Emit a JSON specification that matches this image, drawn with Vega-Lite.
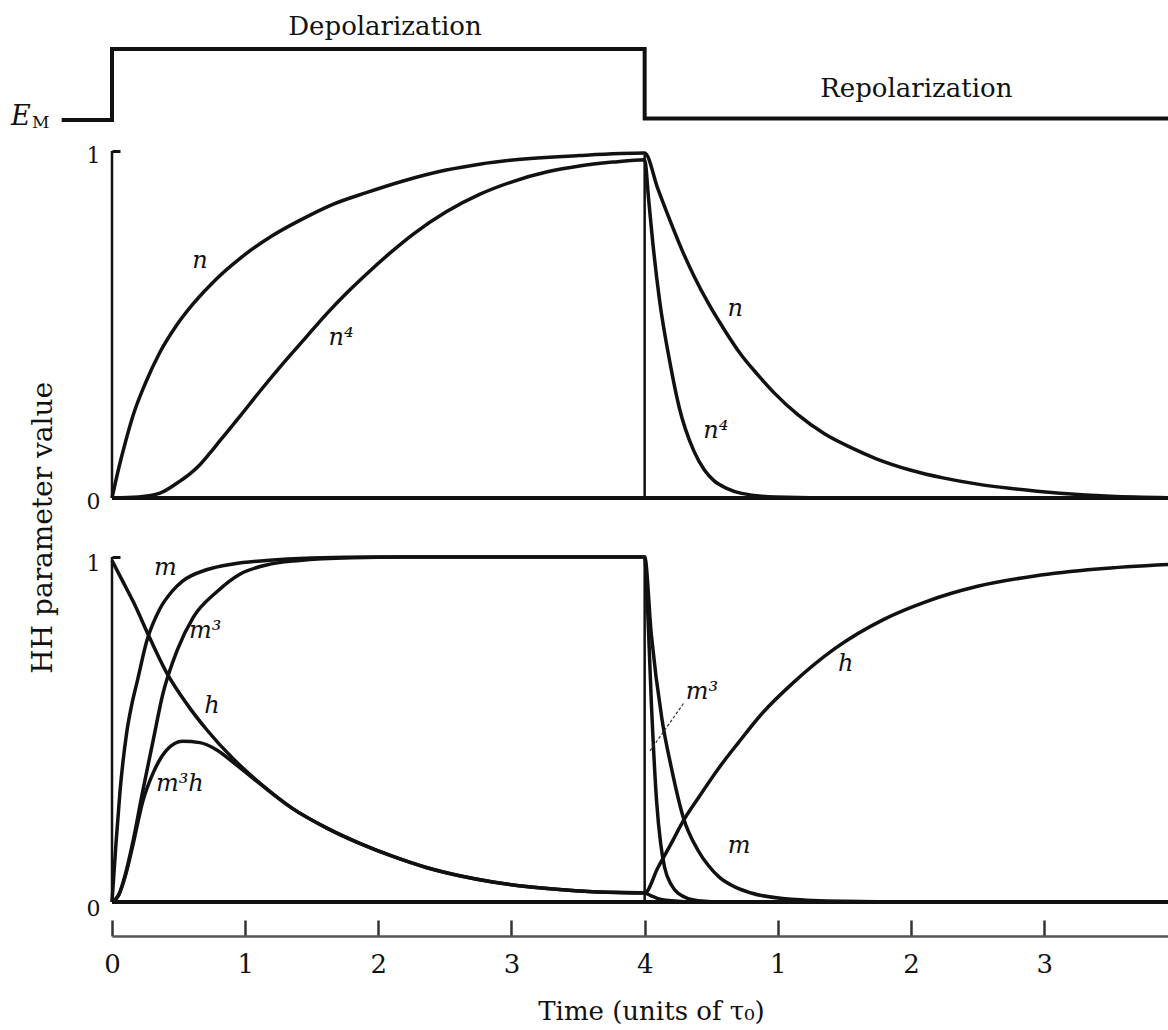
{
  "$schema": "https://vega.github.io/schema/vega-lite/v6.json",
  "padding": {"left": 11, "top": 13, "right": 0, "bottom": 0},
  "background": "white",
  "bounds": "flush",
  "spacing": 31,
  "config": {
    "view": {"stroke": null},
    "font": "DejaVu Serif",
    "axis": {"grid": false, "titleFont": "DejaVu Serif", "labelFont": "DejaVu Serif", "titleFontWeight": "normal", "titleColor": "#111", "labelColor": "#111"}
  },
  "datasets": {
    "em": [
      {"i": 0, "t": -0.378, "level": 0},
      {"i": 1, "t": 0, "level": 0},
      {"i": 2, "t": 0, "level": 1},
      {"i": 3, "t": 4, "level": 1},
      {"i": 4, "t": 4, "level": 0.02},
      {"i": 5, "t": 7.93, "level": 0.02}
    ],
    "toplab": [
      {"label": "Depolarization", "t": 2.05, "level": 1.31},
      {"label": "Repolarization", "t": 6.04, "level": 0.437}
    ],
    "emE": [{"label": "E", "t": -0.758, "level": -0.07}],
    "emM": [{"label": "M", "t": -0.6, "level": -0.11}],
    "ytitle": [{"label": "HH parameter value", "t": -0.51, "v": -0.086}],
    "p2": [
      {"c": "n", "t": 0, "v": 0}, {"c": "n", "t": 0.05, "v": 0.085}, {"c": "n", "t": 0.1, "v": 0.16},
      {"c": "n", "t": 0.16, "v": 0.24}, {"c": "n", "t": 0.25, "v": 0.33}, {"c": "n", "t": 0.36, "v": 0.42},
      {"c": "n", "t": 0.48, "v": 0.495}, {"c": "n", "t": 0.61, "v": 0.56}, {"c": "n", "t": 0.78, "v": 0.63},
      {"c": "n", "t": 0.96, "v": 0.69}, {"c": "n", "t": 1.2, "v": 0.755}, {"c": "n", "t": 1.41, "v": 0.8},
      {"c": "n", "t": 1.65, "v": 0.845}, {"c": "n", "t": 1.91, "v": 0.88}, {"c": "n", "t": 2.2, "v": 0.915},
      {"c": "n", "t": 2.51, "v": 0.945}, {"c": "n", "t": 2.76, "v": 0.962}, {"c": "n", "t": 3.01, "v": 0.974},
      {"c": "n", "t": 3.51, "v": 0.987}, {"c": "n", "t": 4.0, "v": 0.994}, {"c": "n", "t": 4.1, "v": 0.89},
      {"c": "n", "t": 4.19, "v": 0.8}, {"c": "n", "t": 4.28, "v": 0.715}, {"c": "n", "t": 4.37, "v": 0.64},
      {"c": "n", "t": 4.48, "v": 0.56}, {"c": "n", "t": 4.59, "v": 0.49}, {"c": "n", "t": 4.72, "v": 0.415},
      {"c": "n", "t": 4.85, "v": 0.355}, {"c": "n", "t": 4.98, "v": 0.3}, {"c": "n", "t": 5.15, "v": 0.24},
      {"c": "n", "t": 5.35, "v": 0.185}, {"c": "n", "t": 5.55, "v": 0.145}, {"c": "n", "t": 5.74, "v": 0.113},
      {"c": "n", "t": 6.0, "v": 0.08}, {"c": "n", "t": 6.24, "v": 0.058}, {"c": "n", "t": 6.5, "v": 0.04},
      {"c": "n", "t": 6.74, "v": 0.028}, {"c": "n", "t": 7.12, "v": 0.014}, {"c": "n", "t": 7.5, "v": 0.005},
      {"c": "n", "t": 7.93, "v": 0.001},
      {"c": "n4", "t": 0, "v": 0}, {"c": "n4", "t": 0.2, "v": 0.003}, {"c": "n4", "t": 0.36, "v": 0.014},
      {"c": "n4", "t": 0.5, "v": 0.046}, {"c": "n4", "t": 0.58, "v": 0.068}, {"c": "n4", "t": 0.66, "v": 0.096},
      {"c": "n4", "t": 0.73, "v": 0.127}, {"c": "n4", "t": 0.8, "v": 0.16},
      {"c": "n4", "t": 0.96, "v": 0.235}, {"c": "n4", "t": 1.12, "v": 0.312}, {"c": "n4", "t": 1.29, "v": 0.39},
      {"c": "n4", "t": 1.45, "v": 0.46}, {"c": "n4", "t": 1.61, "v": 0.53}, {"c": "n4", "t": 1.76, "v": 0.59},
      {"c": "n4", "t": 1.91, "v": 0.645}, {"c": "n4", "t": 2.1, "v": 0.71}, {"c": "n4", "t": 2.26, "v": 0.76},
      {"c": "n4", "t": 2.51, "v": 0.825}, {"c": "n4", "t": 2.76, "v": 0.875}, {"c": "n4", "t": 3.01, "v": 0.912},
      {"c": "n4", "t": 3.27, "v": 0.94}, {"c": "n4", "t": 3.51, "v": 0.957}, {"c": "n4", "t": 3.76, "v": 0.968},
      {"c": "n4", "t": 4.0, "v": 0.975}, {"c": "n4", "t": 4.03, "v": 0.86}, {"c": "n4", "t": 4.06, "v": 0.74},
      {"c": "n4", "t": 4.11, "v": 0.575}, {"c": "n4", "t": 4.19, "v": 0.39}, {"c": "n4", "t": 4.26, "v": 0.26},
      {"c": "n4", "t": 4.37, "v": 0.135}, {"c": "n4", "t": 4.45, "v": 0.08}, {"c": "n4", "t": 4.52, "v": 0.05},
      {"c": "n4", "t": 4.62, "v": 0.027}, {"c": "n4", "t": 4.72, "v": 0.014}, {"c": "n4", "t": 4.98, "v": 0.003},
      {"c": "n4", "t": 5.5, "v": 0}, {"c": "n4", "t": 7.93, "v": 0}
    ],
    "l2": [
      {"label": "n", "t": 0.66, "v": 0.683},
      {"label": "n⁴", "t": 1.72, "v": 0.46},
      {"label": "n", "t": 4.68, "v": 0.545},
      {"label": "n⁴", "t": 4.535, "v": 0.193}
    ],
    "p3": [
      {"c": "m", "t": 0, "v": 0}, {"c": "m", "t": 0.03, "v": 0.17}, {"c": "m", "t": 0.06, "v": 0.32},
      {"c": "m", "t": 0.11, "v": 0.49}, {"c": "m", "t": 0.15, "v": 0.575}, {"c": "m", "t": 0.19, "v": 0.64},
      {"c": "m", "t": 0.26, "v": 0.755}, {"c": "m", "t": 0.36, "v": 0.85}, {"c": "m", "t": 0.45, "v": 0.9},
      {"c": "m", "t": 0.53, "v": 0.93}, {"c": "m", "t": 0.71, "v": 0.963}, {"c": "m", "t": 0.91, "v": 0.98},
      {"c": "m", "t": 1.16, "v": 0.99}, {"c": "m", "t": 1.5, "v": 0.997}, {"c": "m", "t": 2.0, "v": 1.0},
      {"c": "m", "t": 4.0, "v": 1.0}, {"c": "m", "t": 4.05, "v": 0.775}, {"c": "m", "t": 4.13, "v": 0.53},
      {"c": "m", "t": 4.2, "v": 0.39}, {"c": "m", "t": 4.29, "v": 0.245}, {"c": "m", "t": 4.4, "v": 0.15},
      {"c": "m", "t": 4.48, "v": 0.105}, {"c": "m", "t": 4.56, "v": 0.072}, {"c": "m", "t": 4.68, "v": 0.043},
      {"c": "m", "t": 4.8, "v": 0.026}, {"c": "m", "t": 5.1, "v": 0.008}, {"c": "m", "t": 5.5, "v": 0.002},
      {"c": "m", "t": 6.0, "v": 0}, {"c": "m", "t": 7.93, "v": 0},
      {"c": "m3", "t": 0, "v": 0}, {"c": "m3", "t": 0.05, "v": 0.02}, {"c": "m3", "t": 0.1, "v": 0.08},
      {"c": "m3", "t": 0.16, "v": 0.18}, {"c": "m3", "t": 0.23, "v": 0.32}, {"c": "m3", "t": 0.31, "v": 0.47},
      {"c": "m3", "t": 0.38, "v": 0.6}, {"c": "m3", "t": 0.49, "v": 0.73}, {"c": "m3", "t": 0.61, "v": 0.825},
      {"c": "m3", "t": 0.79, "v": 0.9}, {"c": "m3", "t": 0.96, "v": 0.95}, {"c": "m3", "t": 1.16, "v": 0.977},
      {"c": "m3", "t": 1.41, "v": 0.99}, {"c": "m3", "t": 1.8, "v": 0.998}, {"c": "m3", "t": 2.2, "v": 1.0},
      {"c": "m3", "t": 4.0, "v": 1.0}, {"c": "m3", "t": 4.02, "v": 0.87}, {"c": "m3", "t": 4.05, "v": 0.58},
      {"c": "m3", "t": 4.09, "v": 0.29}, {"c": "m3", "t": 4.12, "v": 0.17}, {"c": "m3", "t": 4.15, "v": 0.1},
      {"c": "m3", "t": 4.2, "v": 0.05}, {"c": "m3", "t": 4.25, "v": 0.026}, {"c": "m3", "t": 4.4, "v": 0.004},
      {"c": "m3", "t": 4.6, "v": 0}, {"c": "m3", "t": 7.93, "v": 0},
      {"c": "h", "t": 0, "v": 0.99}, {"c": "h", "t": 0.08, "v": 0.93}, {"c": "h", "t": 0.16, "v": 0.87},
      {"c": "h", "t": 0.29, "v": 0.76}, {"c": "h", "t": 0.41, "v": 0.665}, {"c": "h", "t": 0.56, "v": 0.575},
      {"c": "h", "t": 0.71, "v": 0.5}, {"c": "h", "t": 0.91, "v": 0.415}, {"c": "h", "t": 1.11, "v": 0.345},
      {"c": "h", "t": 1.36, "v": 0.27}, {"c": "h", "t": 1.61, "v": 0.215}, {"c": "h", "t": 1.86, "v": 0.17},
      {"c": "h", "t": 2.11, "v": 0.132}, {"c": "h", "t": 2.36, "v": 0.1}, {"c": "h", "t": 2.61, "v": 0.076},
      {"c": "h", "t": 2.86, "v": 0.058}, {"c": "h", "t": 3.11, "v": 0.045}, {"c": "h", "t": 3.36, "v": 0.036},
      {"c": "h", "t": 3.61, "v": 0.03}, {"c": "h", "t": 4.0, "v": 0.026}, {"c": "h", "t": 4.1, "v": 0.1},
      {"c": "h", "t": 4.2, "v": 0.17}, {"c": "h", "t": 4.29, "v": 0.235}, {"c": "h", "t": 4.4, "v": 0.3},
      {"c": "h", "t": 4.56, "v": 0.39}, {"c": "h", "t": 4.7, "v": 0.46}, {"c": "h", "t": 4.89, "v": 0.55},
      {"c": "h", "t": 5.1, "v": 0.63}, {"c": "h", "t": 5.43, "v": 0.735}, {"c": "h", "t": 5.8, "v": 0.82},
      {"c": "h", "t": 6.11, "v": 0.87}, {"c": "h", "t": 6.5, "v": 0.915}, {"c": "h", "t": 6.93, "v": 0.945},
      {"c": "h", "t": 7.4, "v": 0.965}, {"c": "h", "t": 7.93, "v": 0.978},
      {"c": "m3h", "t": 0, "v": 0}, {"c": "m3h", "t": 0.05, "v": 0.02}, {"c": "m3h", "t": 0.1, "v": 0.075},
      {"c": "m3h", "t": 0.16, "v": 0.17}, {"c": "m3h", "t": 0.23, "v": 0.29}, {"c": "m3h", "t": 0.31, "v": 0.375},
      {"c": "m3h", "t": 0.41, "v": 0.44}, {"c": "m3h", "t": 0.53, "v": 0.466}, {"c": "m3h", "t": 0.66, "v": 0.462},
      {"c": "m3h", "t": 0.79, "v": 0.44}, {"c": "m3h", "t": 0.91, "v": 0.405}, {"c": "m3h", "t": 1.11, "v": 0.343},
      {"c": "m3h", "t": 1.36, "v": 0.27}, {"c": "m3h", "t": 1.61, "v": 0.215}, {"c": "m3h", "t": 1.86, "v": 0.17},
      {"c": "m3h", "t": 2.11, "v": 0.132}, {"c": "m3h", "t": 2.36, "v": 0.1}, {"c": "m3h", "t": 2.61, "v": 0.076},
      {"c": "m3h", "t": 2.86, "v": 0.058}, {"c": "m3h", "t": 3.11, "v": 0.045}, {"c": "m3h", "t": 3.36, "v": 0.036},
      {"c": "m3h", "t": 3.61, "v": 0.03}, {"c": "m3h", "t": 4.0, "v": 0.026}, {"c": "m3h", "t": 4.05, "v": 0.018},
      {"c": "m3h", "t": 4.1, "v": 0.01}, {"c": "m3h", "t": 4.2, "v": 0.004}, {"c": "m3h", "t": 4.4, "v": 0},
      {"c": "m3h", "t": 7.93, "v": 0}
    ],
    "l3": [
      {"label": "m", "t": 0.4, "v": 0.968},
      {"label": "m³", "t": 0.7, "v": 0.785},
      {"label": "h", "t": 0.75, "v": 0.568},
      {"label": "m³h", "t": 0.51, "v": 0.342},
      {"label": "m³", "t": 4.43, "v": 0.61},
      {"label": "m", "t": 4.71, "v": 0.162},
      {"label": "h", "t": 5.51, "v": 0.69}
    ],
    "lead": [
      {"t": 4.04, "v": 0.438},
      {"t": 4.3, "v": 0.58}
    ]
  },
  "vconcat": [
    {
      "width": 1056,
      "height": 71,
      "layer": [
        {
          "data": {"name": "em"},
          "mark": {"type": "line", "strokeWidth": 4, "color": "#111"},
          "encoding": {
            "x": {"field": "t", "type": "quantitative", "scale": {"domain": [0, 7.93], "nice": false, "zero": false}, "axis": null},
            "y": {"field": "level", "type": "quantitative", "scale": {"domain": [0, 1], "nice": false, "zero": false}, "axis": null},
            "order": {"field": "i"}
          }
        },
        {
          "data": {"name": "toplab"},
          "mark": {"type": "text", "font": "DejaVu Serif", "fontSize": 26, "color": "#111", "align": "center", "baseline": "middle"},
          "encoding": {
            "x": {"field": "t", "type": "quantitative", "scale": {"domain": [0, 7.93], "nice": false, "zero": false}, "axis": null},
            "y": {"field": "level", "type": "quantitative", "scale": {"domain": [0, 1], "nice": false, "zero": false}, "axis": null},
            "text": {"field": "label"}
          }
        },
        {
          "data": {"name": "emE"},
          "mark": {"type": "text", "font": "DejaVu Serif", "fontStyle": "italic", "fontSize": 27, "color": "#111", "align": "left", "baseline": "alphabetic"},
          "encoding": {
            "x": {"field": "t", "type": "quantitative", "scale": {"domain": [0, 7.93], "nice": false, "zero": false}, "axis": null},
            "y": {"field": "level", "type": "quantitative", "scale": {"domain": [0, 1], "nice": false, "zero": false}, "axis": null},
            "text": {"field": "label"}
          }
        },
        {
          "data": {"name": "emM"},
          "mark": {"type": "text", "font": "DejaVu Serif", "fontSize": 17, "color": "#111", "align": "left", "baseline": "alphabetic"},
          "encoding": {
            "x": {"field": "t", "type": "quantitative", "scale": {"domain": [0, 7.93], "nice": false, "zero": false}, "axis": null},
            "y": {"field": "level", "type": "quantitative", "scale": {"domain": [0, 1], "nice": false, "zero": false}, "axis": null},
            "text": {"field": "label"}
          }
        }
      ]
    },
    {
      "width": 1056,
      "height": 375,
      "layer": [
        {
          "data": {"name": "p2"},
          "mark": {"type": "line", "strokeWidth": 3.5, "color": "#111", "interpolate": "monotone"},
          "encoding": {
            "x": {"field": "t", "type": "quantitative", "scale": {"domain": [0, 7.93], "nice": false, "zero": false}, "axis": null},
            "y": {
              "field": "v", "type": "quantitative",
              "scale": {"domain": [-0.0807, 1], "nice": false, "zero": false},
              "axis": {
                "values": [0, 1], "format": "d", "domain": false, "grid": false,
                "tickSize": -8, "tickWidth": 3, "tickColor": "#111",
                "labelPadding": 20, "labelFontSize": 22, "labelFont": "DejaVu Serif", "labelColor": "#111", "labelOffset": 4,
                "title": null
              }
            },
            "detail": {"field": "c"}
          }
        },
        {
          "data": {"values": [{"t": 0, "v": 0, "v2": 1}, {"t": 4, "v": 0, "v2": 0.99}]},
          "mark": {"type": "rule", "strokeWidth": 2.5, "color": "#111"},
          "encoding": {
            "x": {"field": "t", "type": "quantitative", "scale": {"domain": [0, 7.93], "nice": false, "zero": false}, "axis": null},
            "y": {"field": "v", "type": "quantitative", "scale": {"domain": [-0.0807, 1], "nice": false, "zero": false}, "title": null},
            "y2": {"field": "v2"}
          }
        },
        {
          "data": {"values": [{"v": 0}]},
          "mark": {"type": "rule", "strokeWidth": 4, "color": "#111"},
          "encoding": {
            "y": {"field": "v", "type": "quantitative", "scale": {"domain": [-0.0807, 1], "nice": false, "zero": false}, "title": null}
          }
        },
        {
          "data": {"name": "l2"},
          "mark": {"type": "text", "font": "DejaVu Serif", "fontStyle": "italic", "fontSize": 24, "color": "#111", "align": "center", "baseline": "middle"},
          "encoding": {
            "x": {"field": "t", "type": "quantitative", "scale": {"domain": [0, 7.93], "nice": false, "zero": false}, "axis": null},
            "y": {"field": "v", "type": "quantitative", "scale": {"domain": [-0.0807, 1], "nice": false, "zero": false}, "title": null},
            "text": {"field": "label"}
          }
        },
        {
          "data": {"name": "ytitle"},
          "mark": {"type": "text", "font": "DejaVu Serif", "fontSize": 28, "color": "#111", "align": "center", "baseline": "middle", "angle": 270},
          "encoding": {
            "x": {"field": "t", "type": "quantitative", "scale": {"domain": [0, 7.93], "nice": false, "zero": false}, "axis": null},
            "y": {"field": "v", "type": "quantitative", "scale": {"domain": [-0.0807, 1], "nice": false, "zero": false}, "title": null},
            "text": {"field": "label"}
          }
        }
      ]
    },
    {
      "width": 1056,
      "height": 345,
      "layer": [
        {
          "data": {"name": "p3"},
          "mark": {"type": "line", "strokeWidth": 3.5, "color": "#111", "interpolate": "monotone"},
          "encoding": {
            "x": {
              "field": "t", "type": "quantitative",
              "scale": {"domain": [0, 7.93], "nice": false, "zero": false},
              "axis": {
                "values": [0, 1, 2, 3, 4, 5, 6, 7],
                "labelExpr": "datum.value > 4 ? '' + (datum.value - 4) : '' + datum.value",
                "offset": 34, "grid": false,
                "domainColor": "#555", "domainWidth": 2.5,
                "tickColor": "#333", "tickWidth": 2.5, "tickSize": -16,
                "labelPadding": 31, "labelFontSize": 26, "labelFont": "DejaVu Serif", "labelColor": "#111",
                "labelFlush": false, "labelOverlap": false,
                "title": "Time (units of τ₀)", "titleFontSize": 26, "titleFontWeight": "normal",
                "titleFont": "DejaVu Serif", "titleColor": "#111",
                "titleX": 539, "titleY": 75, "titleBaseline": "middle", "titleAlign": "center"
              }
            },
            "y": {
              "field": "v", "type": "quantitative",
              "scale": {"domain": [0, 1], "nice": false, "zero": false},
              "axis": {
                "values": [0, 1], "format": "d", "domain": false, "grid": false,
                "tickSize": -8, "tickWidth": 3, "tickColor": "#111",
                "labelPadding": 20, "labelFontSize": 22, "labelFont": "DejaVu Serif", "labelColor": "#111", "labelOffset": 6,
                "title": null
              }
            },
            "detail": {"field": "c"}
          }
        },
        {
          "data": {"values": [{"t": 0, "v": 0, "v2": 1}, {"t": 4, "v": 0, "v2": 1}]},
          "mark": {"type": "rule", "strokeWidth": 2.5, "color": "#111"},
          "encoding": {
            "x": {"field": "t", "type": "quantitative", "scale": {"domain": [0, 7.93], "nice": false, "zero": false}},
            "y": {"field": "v", "type": "quantitative", "scale": {"domain": [0, 1], "nice": false, "zero": false}, "title": null},
            "y2": {"field": "v2"}
          }
        },
        {
          "data": {"values": [{"v": 0}]},
          "mark": {"type": "rule", "strokeWidth": 4, "color": "#111"},
          "encoding": {
            "y": {"field": "v", "type": "quantitative", "scale": {"domain": [0, 1], "nice": false, "zero": false}, "title": null}
          }
        },
        {
          "data": {"name": "lead"},
          "mark": {"type": "line", "strokeWidth": 1.2, "color": "#333", "strokeDash": [3, 2]},
          "encoding": {
            "x": {"field": "t", "type": "quantitative", "scale": {"domain": [0, 7.93], "nice": false, "zero": false}},
            "y": {"field": "v", "type": "quantitative", "scale": {"domain": [0, 1], "nice": false, "zero": false}, "title": null}
          }
        },
        {
          "data": {"name": "l3"},
          "mark": {"type": "text", "font": "DejaVu Serif", "fontStyle": "italic", "fontSize": 24, "color": "#111", "align": "center", "baseline": "middle"},
          "encoding": {
            "x": {"field": "t", "type": "quantitative", "scale": {"domain": [0, 7.93], "nice": false, "zero": false}},
            "y": {"field": "v", "type": "quantitative", "scale": {"domain": [0, 1], "nice": false, "zero": false}, "title": null},
            "text": {"field": "label"}
          }
        }
      ]
    }
  ]
}
